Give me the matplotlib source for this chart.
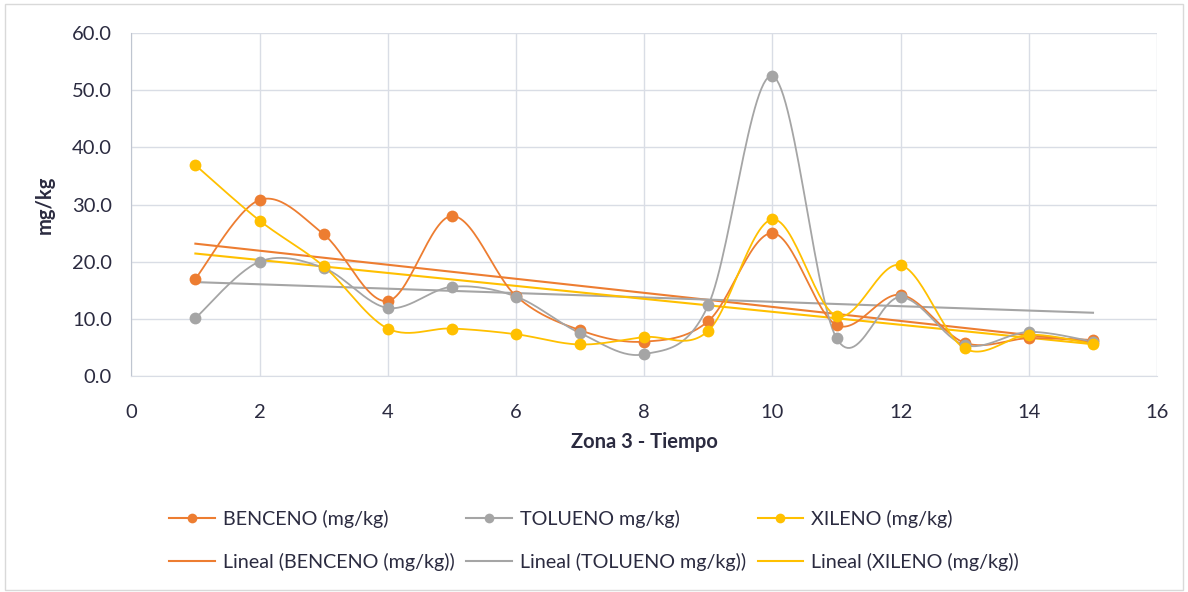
import numpy as np
import matplotlib
matplotlib.use('Agg')
import matplotlib.pyplot as plt
from matplotlib.patches import Rectangle

plt.rcParams['font.family'] = ['Lato', 'DejaVu Sans']

# Datos por punto de muestreo
tiempo = [1, 2, 3, 4, 5, 6, 7, 8, 9, 10, 11, 12, 13, 14, 15]
benceno = [17.0, 30.8, 24.8, 13.1, 28.0, 14.0, 8.0, 6.0, 9.6, 25.0, 8.9, 14.2, 5.8, 6.6, 6.3]
tolueno = [10.1, 20.0, 18.9, 11.9, 15.6, 13.9, 7.5, 3.8, 12.4, 52.5, 6.6, 13.8, 5.4, 7.7, 6.0]
xileno = [36.9, 27.2, 19.2, 8.3, 8.3, 7.3, 5.5, 6.8, 7.9, 27.4, 10.5, 19.4, 4.8, 7.2, 5.6]

series = [
    ('BENCENO (mg/kg)', 'Lineal (BENCENO (mg/kg))', benceno, '#ED7D31'),
    ('TOLUENO mg/kg)', 'Lineal (TOLUENO mg/kg))', tolueno, '#A5A5A5'),
    ('XILENO (mg/kg)', 'Lineal (XILENO (mg/kg))', xileno, '#FFC000'),
]
texto = '#2B2B40'


def suavizar(x, y, n=30):
    # curva tipo Catmull-Rom, como la linea suavizada de Excel
    x = np.asarray(x, float)
    y = np.asarray(y, float)
    px = np.concatenate([[x[0]], x, [x[-1]]])
    py = np.concatenate([[y[0]], y, [y[-1]]])
    xs, ys = [], []
    t = np.linspace(0, 1, n)
    for i in range(1, len(px) - 2):
        p0 = np.array([px[i], py[i]])
        p3 = np.array([px[i + 1], py[i + 1]])
        p1 = p0 + (np.array([px[i + 1], py[i + 1]]) - np.array([px[i - 1], py[i - 1]])) / 6
        p2 = p3 - (np.array([px[i + 2], py[i + 2]]) - np.array([px[i], py[i]])) / 6
        b = ((1 - t) ** 3)[:, None] * p0 + (3 * (1 - t) ** 2 * t)[:, None] * p1 \
            + (3 * (1 - t) * t ** 2)[:, None] * p2 + (t ** 3)[:, None] * p3
        xs.extend(b[:, 0])
        ys.extend(b[:, 1])
    return xs, ys


fig = plt.figure(figsize=(11.88, 5.92), dpi=100)
fig.patches.append(Rectangle((0.004, 0.004), 0.992, 0.989, transform=fig.transFigure,
                             fill=False, edgecolor='#D9D9D9', linewidth=1))
ax = fig.add_axes([0.1105, 0.365, 0.8635, 0.579])

handles = {}
for nombre, nombre_lin, datos, color in series:
    sx, sy = suavizar(tiempo, datos)
    ax.plot(sx, sy, color=color, linewidth=1.3, zorder=3)
    ax.plot(tiempo, datos, linestyle='None', color=color,
            marker='o', markersize=8.5, markeredgewidth=0, zorder=4)
    hl, = ax.plot([], [], color=color, linewidth=1.5, marker='o', markersize=7,
                  markeredgewidth=0)
    m, b = np.polyfit(tiempo, datos, 1)
    xt = np.array([tiempo[0], tiempo[-1]])
    lt, = ax.plot(xt, m * xt + b, color=color, linewidth=1.5, zorder=2)
    handles[nombre] = hl
    handles[nombre_lin] = lt

ax.set_xlim(0, 16)
ax.set_ylim(0, 60)
ax.set_xticks(range(0, 17, 2))
ax.set_yticks(range(0, 61, 10))
ax.set_yticklabels([f'{v:.1f}' for v in range(0, 61, 10)])
ax.grid(True, color='#D9DDE5', linewidth=1)
ax.set_axisbelow(True)
for s in ['top', 'right']:
    ax.spines[s].set_visible(False)
ax.spines['left'].set_color('#BFC5D0')
ax.spines['bottom'].set_color('#D9DDE5')
ax.tick_params(length=0, labelsize=14.5, colors=texto, pad=14)
ax.tick_params(axis='x', pad=20)

ax.set_xlabel('Zona 3 - Tiempo', fontsize=14.5, fontweight='bold', color=texto, labelpad=8)
ax.set_ylabel('mg/kg', fontsize=14.5, fontweight='bold', color=texto, labelpad=12)

orden = []
for nombre, nombre_lin, _, _ in series:
    orden += [nombre, nombre_lin]
fig.legend([handles[k] for k in orden], orden, ncol=3, loc='lower center',
           bbox_to_anchor=(0.5, 0.005), frameon=False, fontsize=14.2,
           labelcolor=texto, handlelength=2.3, columnspacing=0.6,
           handletextpad=0.4, labelspacing=1.3)

fig.savefig('out.png', dpi=100, facecolor='white')
